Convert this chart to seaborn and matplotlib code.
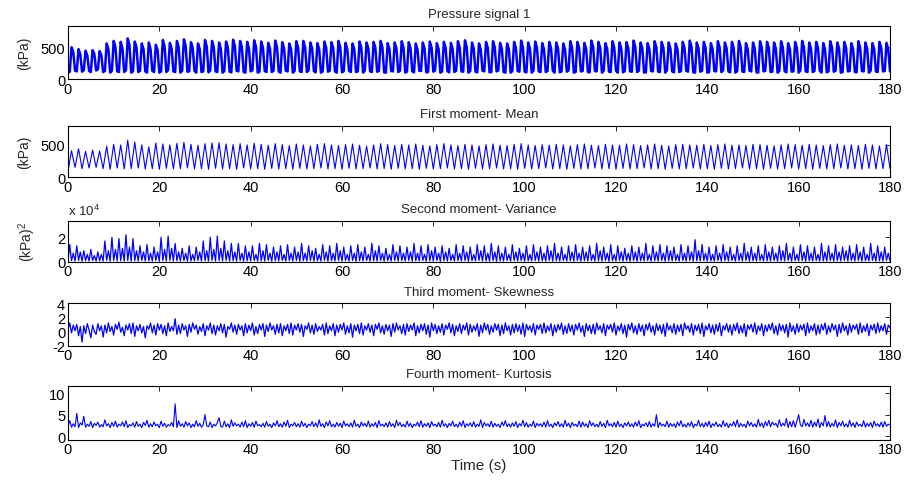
import numpy as np
import pandas as pd
import matplotlib
matplotlib.use("Agg")
import matplotlib.pyplot as plt
import seaborn as sns

# ---------------- data ----------------
titles = ["Pressure signal 1", "First moment- Mean", "Second moment- Variance",
          "Third moment- Skewness", "Fourth moment- Kurtosis"]
x_ticks = [0, 20, 40, 60, 80, 100, 120, 140, 160, 180]

# Pressure signal 1 (kPa): per cycle low, low, peak, shoulder
pressure_kpa = [
    95,115,500,430, 130,120,470,390, 115,140,445,370, 125,110,455,395,
    135,150,440,375, 110,125,560,470, 100,130,600,505, 120,110,585,480,
    110,140,640,530, 100,120,590,500, 110,130,560,470, 120,100,575,470,
    130,110,540,455, 100,120,615,510, 110,140,570,480, 120,110,600,500,
    100,130,625,520, 115,120,580,490, 130,100,560,470, 110,120,615,510,
    105,135,600,500, 120,110,575,480, 100,125,590,495, 115,105,620,520,
    130,120,600,500, 110,100,585,485, 120,135,610,510, 100,115,590,490,
    125,110,570,475, 110,130,605,505, 115,100,580,485, 130,120,560,470,
    100,125,595,495, 120,110,600,500, 110,135,575,480, 125,105,565,470,
    100,120,590,495, 115,130,580,485, 120,100,600,500, 105,125,570,475,
    130,110,560,465, 110,120,590,490, 100,135,575,480, 120,110,585,490,
    115,125,600,500, 105,100,565,470, 125,120,575,480, 110,130,595,495,
    100,115,580,485, 120,105,560,465, 130,125,575,480, 105,110,590,495,
    115,135,565,470, 100,120,585,490, 125,105,570,475, 110,130,595,495,
    120,115,610,505, 100,125,575,480, 115,105,560,465, 130,120,585,490,
    105,110,595,495, 120,135,570,475, 110,100,560,470, 100,125,585,490,
    125,115,605,500, 115,105,575,480, 100,130,590,495, 120,110,565,470,
    110,125,585,490, 130,100,575,480, 105,120,560,465, 115,135,595,495,
    100,110,585,490, 120,125,570,475, 110,105,605,505, 125,120,585,490,
    100,130,565,470, 115,110,595,495, 130,100,575,480, 105,125,580,485,
    120,115,605,505, 110,130,575,480, 100,105,565,470, 125,120,595,495,
    115,110,585,490, 100,135,575,480, 120,105,560,465, 110,125,585,490,
    130,115,605,505, 105,100,575,480, 115,130,585,490, 100,110,565,470,
    125,120,595,495, 110,135,575,480, 120,105,585,490, 100,125,600,500,
    115,110,565,470, 130,120,575,480, 105,100,595,495, 120,130,585,490,
    110,115,575,480, 100,125,595,495, 125,105,565,470, 115,120,585,490,
    100,135,600,500, 120,110,575,480, 110,125,585,490, 130,100,565,470,
    105,120,595,495, 115,130,575,480, 100,110,585,490, 120,125,565,470,
    110,105,595,495, 125,120,575,480, 100,130,565,470, 115,110,585,490,
    120,125,570,475, 120,
]

# First moment - mean (kPa): per cycle trough, peak
mean_kpa = [
    90,410, 150,440, 130,400, 140,420, 150,405, 130,480, 120,510, 140,500,
    125,575, 130,545, 140,500, 125,470, 130,530, 120,515, 135,500, 125,525,
    130,540, 140,510, 125,495, 130,520, 120,530, 135,535, 125,515, 130,505,
    120,520, 140,500, 125,525, 130,510, 120,495, 135,520, 125,505, 130,490,
    120,515, 135,500, 125,485, 130,510, 140,520, 125,500, 130,490, 120,505,
    135,515, 125,495, 130,480, 140,500, 125,520, 130,505, 120,490, 135,510,
    125,500, 130,515, 120,495, 135,485, 125,505, 130,520, 140,500, 125,490,
    130,510, 120,500, 135,485, 125,505, 130,515, 140,495, 125,490, 130,510,
    120,520, 135,500, 125,490, 130,505, 140,495, 125,510, 130,500, 120,485,
    135,505, 125,515, 130,495, 140,490, 125,510, 130,500, 120,495, 135,515,
    125,505, 130,490, 140,500, 125,515, 130,495, 120,485, 135,505, 125,510,
    130,500, 140,495, 125,510, 130,490, 120,505, 135,515, 125,495, 130,500,
    140,490, 125,510, 130,505, 120,495, 135,485, 125,500, 130,515, 140,505,
    125,495, 130,510, 120,500, 135,490, 125,505, 130,515, 140,495, 125,500,
    130,490, 120,510, 135,500, 125,485, 130,505, 130,
]

# Second moment - variance (x 10^4 kPa^2): per cycle base, tall, base, small
variance_1e4 = [
    .05,1.4,.08,.7, .05,1.3,.1,.8, .04,.9,.08,.6, .06,1.0,.1,.5,
    .05,.8,.07,.6, .05,1.7,.1,.9, .04,2.0,.1,1.0, .06,1.9,.08,1.1,
    .05,2.2,.1,1.2, .04,1.9,.08,.9, .06,1.3,.1,.8, .05,1.4,.07,.7,
    .05,1.2,.1,.8, .04,2.0,.09,1.0, .06,2.1,.1,1.1, .05,1.5,.08,.8,
    .05,1.1,.1,.7, .04,1.3,.07,.6, .06,1.2,.1,.8, .05,1.7,.08,.9,
    .04,2.0,.1,1.0, .05,2.1,.09,1.1, .06,1.7,.1,.9, .05,1.5,.08,.8,
    .05,1.5,.1,.7, .04,1.3,.08,.8, .06,1.3,.1,.6, .05,1.5,.07,.9,
    .05,1.4,.1,.7, .04,1.2,.08,.8, .06,1.3,.1,.6, .05,1.4,.09,.7,
    .05,1.2,.1,.8, .04,1.5,.08,.7, .06,1.3,.1,.9, .05,1.1,.07,.6,
    .05,1.4,.1,.8, .04,1.3,.08,.7, .06,1.5,.1,.9, .05,1.2,.09,.6,
    .05,1.3,.1,.7, .04,1.4,.08,.8, .06,1.2,.1,.6, .05,1.5,.07,.9,
    .05,1.3,.1,.7, .04,1.1,.08,.6, .06,1.4,.1,.8, .05,1.3,.09,.7,
    .05,1.2,.1,.8, .04,1.5,.08,.7, .06,1.3,.1,.6, .05,1.4,.07,.9,
    .05,1.2,.1,.7, .04,1.3,.08,.8, .06,1.1,.1,.6, .05,1.4,.09,.7,
    .05,1.3,.1,.8, .04,1.2,.08,.6, .06,1.4,.1,.9, .05,1.3,.07,.7,
    .05,1.5,.1,.8, .04,1.3,.08,.7, .06,1.2,.1,.6, .05,1.4,.09,.8,
    .05,1.1,.1,.7, .04,1.3,.08,.6, .06,1.4,.1,.8, .05,1.2,.07,.7,
    .05,1.3,.1,.9, .04,1.5,.08,.7, .06,1.2,.1,.6, .05,1.3,.09,.8,
    .05,1.4,.1,.7, .04,1.2,.08,.8, .06,1.3,.1,.6, .05,1.5,.07,.9,
    .05,1.2,.1,.7, .04,1.4,.08,.6, .06,1.3,.1,.8, .05,1.1,.09,.7,
    .05,1.3,.1,.8, .04,1.2,.08,.7, .06,1.5,.1,.6, .05,1.3,.07,.8,
    .05,1.4,.1,.7, .04,1.3,.08,.9, .06,1.2,.1,.6, .05,1.4,.09,.7,
    .05,1.3,.1,.8, .04,1.8,.08,.9, .06,1.4,.1,.7, .05,1.2,.07,.6,
    .05,1.3,.1,.7, .04,1.4,.08,.8, .06,1.2,.1,.6, .05,1.3,.09,.7,
    .05,1.5,.1,.8, .04,1.2,.08,.7, .06,1.3,.1,.6, .05,1.4,.07,.8,
    .05,1.2,.1,.7, .04,1.3,.08,.9, .06,1.5,.1,.7, .05,1.2,.09,.6,
    .05,1.4,.1,.8, .04,1.3,.08,.7, .06,1.2,.1,.6, .05,1.5,.07,.8,
    .05,1.3,.1,.7, .04,1.4,.08,.8, .06,1.2,.1,.9, .05,1.3,.09,.7,
    .05,1.4,.1,.8, .04,1.2,.08,.6, .06,1.5,.1,.7, .05,1.3,.07,.8,
    .05,1.2,.1,.7, .05,
]

# Third moment - skewness
skewness = [
    0.3,1.2,-0.2,0.9, 0.1,1.0,-0.6,0.7, -1.5,0.8,-0.3,1.1, 0.2,-0.9,0.9,0.0,
    -0.4,1.1,0.1,0.8, -0.8,0.9,-0.2,1.2, 0.0,0.7,-0.5,1.0, 0.3,1.3,-0.1,0.6,
    -0.6,0.9,0.2,1.1, -0.3,1.2,-0.7,0.8, 0.1,1.0,-0.2,0.7, -0.9,0.8,0.3,1.2,
    -0.2,0.9,-0.5,1.1, 0.2,1.0,-0.3,0.8, -0.6,1.2,0.0,0.7, 0.1,1.8,-0.4,0.9,
    -0.3,1.1,0.2,0.8, -0.7,1.0,-0.1,1.2, 0.3,0.9,-0.4,0.7, 0.0,1.1,-0.6,0.8,
    0.2,1.2,-0.3,0.9, -0.5,0.8,0.1,1.1, -0.2,1.0,-0.8,0.7, 0.3,1.2,-0.1,0.9,
    -0.4,1.0,0.2,0.8, -0.6,1.1,-0.2,0.9, 0.1,1.2,-0.5,0.7, -0.3,1.0,0.2,1.1,
    -0.7,0.9,0.0,1.2, 0.2,0.8,-0.4,1.0, -0.2,1.1,-0.6,0.8, 0.1,1.0,-0.3,1.2,
    -0.5,0.9,0.2,1.1, -0.1,1.0,-0.7,0.8, 0.3,1.2,-0.2,0.9, -0.4,1.1,0.0,0.7,
    0.2,1.0,-0.5,1.2, -0.3,0.8,0.1,1.1, -0.6,0.9,-0.1,1.0, 0.2,1.2,-0.4,0.8,
    -0.2,1.1,-0.8,0.9, 0.1,1.0,-0.3,1.2, -0.5,0.8,0.2,1.1, -0.1,0.9,-0.6,1.0,
    0.3,1.2,-0.2,0.8, -0.4,1.0,0.1,0.9, -0.7,1.1,-0.1,1.2, 0.2,0.8,-0.3,1.0,
    -0.5,1.1,0.0,0.9, 0.2,1.2,-0.6,0.8, -0.2,1.0,0.1,1.1, -0.4,0.9,-0.8,1.2,
    0.1,1.0,-0.3,0.8, -0.1,1.1,-0.5,0.9, 0.3,1.2,-0.2,1.0, -0.6,0.8,0.0,1.1,
    -0.3,0.9,0.2,1.2, -0.5,1.0,-0.1,0.8, 0.1,1.1,-0.7,0.9, -0.2,1.2,0.2,1.0,
    -0.4,0.8,-0.1,1.1, 0.2,1.0,-0.6,0.9, -0.3,1.2,0.1,0.8, -0.5,1.0,-0.2,1.1,
    0.0,0.9,-0.4,1.2, -0.7,1.0,0.2,0.8, -0.1,1.1,-0.5,0.9, 0.3,1.0,-0.3,1.2,
    -0.2,0.8,0.1,1.1, -0.6,0.9,-0.1,1.0, 0.2,1.2,-0.4,0.8, -0.3,1.1,0.0,0.9,
    -0.5,1.0,0.2,1.2, -0.1,0.8,-0.7,1.1, 0.1,0.9,-0.3,1.0, -0.4,1.2,0.2,0.8,
    -0.2,1.1,-0.6,0.9, 0.3,1.0,-0.1,1.2, -0.5,0.8,0.1,1.1, -0.3,0.9,-0.8,1.0,
    0.2,1.2,-0.2,0.8, -0.4,1.1,0.0,0.9, -0.6,1.0,0.2,1.2, -0.1,0.8,-0.5,1.1,
    0.1,0.9,-0.3,1.0, -0.7,1.2,0.2,0.8, -0.2,1.1,-0.4,0.9, 0.0,1.0,-0.6,1.2,
    0.3,0.8,-0.1,1.1, -0.5,0.9,0.1,1.0, -0.3,1.2,-0.7,0.8, 0.2,1.1,-0.2,0.9,
    -0.4,1.0,0.0,1.2, -0.6,0.8,0.2,1.1, -0.1,0.9,-0.5,1.0, 0.1,1.2,-0.3,0.8,
    -0.2,1.1,-0.7,0.9, 0.3,1.0,-0.1,1.2, -0.4,0.8,0.1,1.1, -0.6,0.9,0.0,1.0,
    0.2,1.2,-0.3,0.8, -0.5,1.1,0.1,0.9, -0.2,1.0,-0.8,1.2, 0.0,0.8,-0.4,1.1,
    -0.1,0.9,0.2,1.0, -0.6,1.2,-0.2,0.8, 0.1,1.1,-0.5,0.9, -0.3,1.0,0.2,1.2,
    -0.4,0.8,-0.1,1.1, 0.2,0.9,-0.7,1.0, -0.2,1.2,0.1,0.8, -0.5,1.1,-0.1,0.9,
    0.3,1.0,-0.4,1.2, -0.2,0.8,0.0,1.1, -0.6,0.9,0.2,1.0, -0.3,1.2,-0.1,0.8,
    0.1,1.1,-0.4,0.9, 0.5,
]

# Fourth moment - kurtosis
kurtosis = [
    2.4,3.6,2.1,2.9, 2.2,5.3,2.0,3.1, 2.6,4.6,2.1,2.8, 2.3,3.4,2.0,3.0,
    2.5,3.3,2.1,2.7, 2.2,3.8,2.4,2.9, 2.0,3.2,2.3,3.5, 2.1,2.8,2.4,3.3,
    2.2,3.6,2.0,2.7, 2.4,3.1,2.1,3.4, 2.3,2.8,2.0,3.2, 2.5,3.7,2.1,2.9,
    2.2,3.3,2.4,2.8, 2.0,3.5,2.3,3.0, 2.1,2.7,2.4,3.2, 2.2,7.5,2.0,3.6,
    2.3,2.9,2.1,3.4, 2.4,3.1,2.0,2.8, 2.2,3.6,2.3,3.0, 2.1,2.7,5.0,2.4,
    2.2,3.3,2.0,2.8, 2.4,3.1,4.3,2.3, 2.1,3.5,2.2,2.9, 2.0,3.8,2.3,3.1,
    2.4,2.8,2.1,3.3, 2.2,3.6,2.0,2.9, 2.3,3.2,2.1,3.5, 2.4,2.7,2.2,3.0,
    2.1,3.4,2.3,2.8, 2.0,3.1,2.4,3.6, 2.2,2.9,2.1,3.3, 2.3,3.7,2.0,2.8,
    2.4,3.2,2.2,2.9, 2.1,3.5,2.3,3.0, 2.0,2.8,2.4,3.4, 2.2,3.1,2.1,3.8,
    2.3,2.9,2.0,3.3, 2.4,3.6,2.2,2.8, 2.1,3.2,2.3,3.0, 2.0,3.5,2.4,2.9,
    2.2,3.1,2.1,3.7, 2.3,2.8,2.0,3.3, 2.4,3.0,2.2,3.5, 2.1,2.9,2.3,3.2,
    2.0,3.6,2.4,2.8, 2.2,3.1,2.1,3.4, 2.3,2.9,2.0,3.7, 2.4,3.2,2.2,2.8,
    2.1,3.5,2.3,3.0, 2.0,2.8,2.4,3.3, 2.2,3.6,2.1,2.9, 2.3,3.1,2.0,3.4,
    2.4,2.8,2.2,3.2, 2.1,3.7,2.3,2.9, 2.0,3.0,2.4,3.5, 2.2,2.8,2.1,3.3,
    2.3,3.6,2.0,2.9, 2.4,3.1,2.2,3.4, 2.1,2.8,2.3,3.8, 2.0,3.2,2.4,2.9,
    2.2,3.5,2.1,3.0, 2.3,2.8,2.0,3.3, 2.4,3.6,2.2,2.9, 2.1,3.1,2.3,3.4,
    2.0,2.9,2.4,3.7, 2.2,3.2,2.1,2.8, 2.3,3.5,2.0,3.0, 2.4,2.9,2.2,3.3,
    2.1,3.6,2.3,2.8, 2.0,3.1,2.4,3.4, 2.2,2.9,2.1,3.7, 2.3,3.0,2.0,3.2,
    2.4,2.8,2.2,3.5, 2.1,3.3,2.3,2.9, 2.0,3.6,2.4,3.1, 2.2,2.8,2.1,3.4,
    2.3,3.0,2.0,3.7, 2.4,2.9,2.2,3.2, 2.1,3.5,2.3,2.8, 2.0,3.1,2.4,3.3,
    2.2,2.9,2.1,3.3, 2.3,3.6,2.0,2.8, 2.4,3.1,2.2,3.4, 2.1,2.9,2.3,5.0,
    2.0,3.2,2.4,2.8, 2.2,3.5,2.1,3.0, 2.3,2.9,2.0,3.3, 2.4,3.6,2.2,2.8,
    2.1,3.1,2.3,3.4, 2.0,2.8,2.4,3.7, 2.2,3.0,2.1,3.2, 2.3,3.5,2.0,2.9,
    2.4,3.3,2.2,2.8, 2.1,3.6,2.3,3.1, 2.0,2.9,2.4,3.4, 2.2,3.8,2.1,3.0,
    2.3,2.8,2.0,3.5, 2.4,3.2,2.2,2.9, 2.1,3.9,2.3,3.1, 2.0,3.4,2.4,3.7,
    2.2,3.3,2.6,3.0, 2.1,3.8,2.3,3.0, 2.4,4.1,2.0,3.4, 2.2,3.6,2.1,3.5,
    5.0,2.6,2.2,3.9, 2.4,3.1,2.2,3.7, 2.1,3.3,2.3,4.0, 2.0,3.2,2.4,4.8,
    2.2,3.4,2.1,3.0, 2.3,3.8,2.0,3.2, 2.4,3.5,2.2,2.9, 2.1,3.7,2.3,3.1,
    2.0,3.3,2.4,2.8, 2.2,3.6,2.1,3.0, 2.3,3.2,2.0,3.5, 2.4,2.9,2.2,3.3,
    2.1,3.4,2.3,2.8, 2.6,
]

series = [pressure_kpa, mean_kpa, variance_1e4, skewness, kurtosis]
y_limits = [(0, 840), (0, 800), (0, 3.36), (-2, 4), (-0.8, 11.7)]
y_ticks = [[0, 500], [0, 500], [0, 2], [-2, 0, 2, 4], [0, 5, 10]]
y_labels = ["(kPa)", "(kPa)", "(kPa)$^2$", "", ""]
line_widths = [1.8, 0.8, 0.9, 0.9, 0.8]

# ---------------- figure ----------------
sns.set_style("white")
plt.rcParams["font.family"] = ["Liberation Sans", "DejaVu Sans"]
plt.rcParams["mathtext.fontset"] = "custom"
plt.rcParams["mathtext.rm"] = "Liberation Sans"
plt.rcParams["mathtext.it"] = "Liberation Sans"

W, H = 911, 485
fig = plt.figure(figsize=(W / 100, H / 100), dpi=100)

# axes boxes in pixels (top, bottom)
boxes = [(26.7, 80), (126.7, 178), (221.7, 262.7), (304, 346.7), (386.7, 440.7)]
label_x = [-0.045, -0.045, -0.037, -0.045, -0.045]
left_px, right_px = 68, 890

for i, (top, bot) in enumerate(boxes):
    ax = fig.add_axes([left_px / W, 1 - bot / H, (right_px - left_px) / W, (bot - top) / H])
    vals = series[i]
    df = pd.DataFrame({"t": np.linspace(0, 180, len(vals)), "v": vals})
    sns.lineplot(data=df, x="t", y="v", ax=ax, color="#0000ff",
                 linewidth=line_widths[i], estimator=None, sort=False)
    ax.set_xlim(0, 180)
    ax.set_ylim(*y_limits[i])
    ax.set_xticks(x_ticks)
    ax.set_yticks(y_ticks[i])
    ax.set_xticklabels([str(v) for v in x_ticks])
    ax.set_yticklabels([str(v) for v in y_ticks[i]])
    ax.tick_params(direction="in", top=True, right=True, length=3.5, width=0.6,
                   labelsize=10.5, pad=2, colors="black")
    for s in ax.spines.values():
        s.set_visible(True)
        s.set_color("black")
        s.set_linewidth(0.8)
    ax.set_title(titles[i], fontsize=9.5, pad=6)
    ax.set_xlabel("")
    ax.set_ylabel(y_labels[i], fontsize=10)
    ax.yaxis.set_label_coords(label_x[i], 0.5)
    if i == 4:
        ax.set_xlabel("Time (s)", fontsize=11, labelpad=1)

fig.text(68 / W, 1 - 211 / H, "x 10$^4$", fontsize=9.5, ha="left", va="center")

fig.savefig("out.png", dpi=100)
